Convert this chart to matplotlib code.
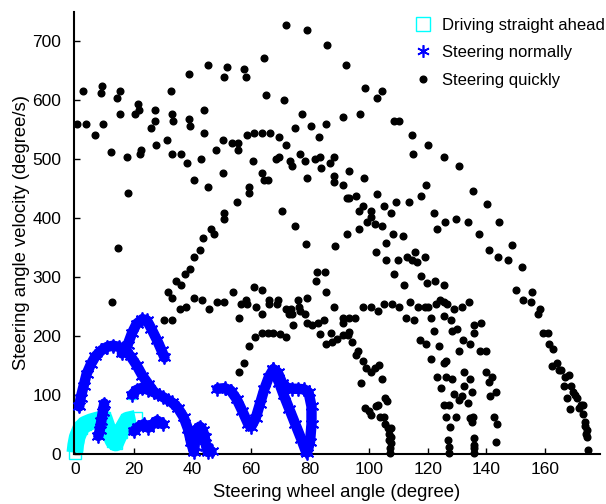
import numpy as np
import matplotlib
matplotlib.use("Agg")
import matplotlib.pyplot as plt
from matplotlib.lines import Line2D

plt.rcParams['font.family'] = ['Liberation Sans', 'DejaVu Sans']

# steering quickly (black dots)
quick_x = [2.9, 8.8, 9.2, 15.3, 14.5, 15.3, 0.9, 3.7, 6.8, 9.5, 12.2, 17.7, 18.0, 21.4, 21.8, 20.6, 22.6, 22.2,
           26.0, 27.2, 27.4, 27.7, 31.5, 32.6, 32.9, 33.4, 32.9, 36.1, 38.3, 40.6, 38.7, 38.8, 39.1, 43.0, 44.1,
           44.1, 43.7, 14.8, 12.6,
           71.8, 79.0, 85.9, 64.4, 45.2, 51.7, 50.9, 57.5, 58.3, 64.9, 71.0, 77.1, 74.8, 80.2, 85.6, 82.9, 47.9,
           50.3, 53.3, 55.6, 55.6, 58.6, 61.0, 63.6, 66.3, 69.4, 71.8, 60.7, 68.3, 69.5, 73.2, 74.0, 76.7, 78.4,
           81.7, 83.3, 86.8, 88.2, 83.6, 79.0, 88.3, 88.3, 50.3, 45.3, 63.6, 64.5, 65.6, 59.4, 59.4, 55.0, 50.9,
           50.6, 46.4, 47.5, 70.5, 74.8,
           92.4, 98.7, 102.9, 104.5, 91.3, 97.1, 108.7, 110.1, 114.8, 120.1, 115.1, 125.5, 130.5, 93.3, 98.2,
           91.3, 119.5, 92.5, 93.4, 95.6, 102.9, 97.9, 96.7, 100.6, 105.2, 109.4, 113.6, 117.8, 107.4, 100.6,
           99.4, 102.1, 104.5, 96.7, 92.5, 108.2, 111.7, 122.1, 123.2, 125.9, 129.7,
           135.5, 140.1, 133.6, 144.4, 137.5,
           42.6, 40.6, 39.2, 37.6, 34.4, 36.0, 31.7, 32.9, 40.6, 43.2, 35.7, 37.9, 30.2, 32.9,
           78.7, 88.5, 82.4, 85.1, 82.1, 85.6, 88.2, 60.9, 63.6, 53.7, 45.7, 48.2, 50.9, 56.4, 58.3, 58.7, 56.0,
           61.5, 63.6, 66.2, 66.0, 69.0, 68.7, 71.8, 72.8, 73.6, 74.0, 76.0, 76.4, 76.7, 78.3, 79.0, 74.1, 79.0,
           80.6, 82.8, 84.8, 83.5, 87.0, 85.5, 87.5, 61.3, 63.7, 65.6, 67.5, 69.8, 71.8, 59.4, 57.4, 56.0,
           102.5, 105.9, 105.9, 109.8, 112.9, 114.8, 115.6, 116.5, 119.1, 108.7, 111.8, 117.8, 119.8, 122.5,
           125.6, 97.9, 100.7, 103.0, 105.2, 107.9, 110.2, 114.1, 116.8, 119.1, 120.1, 122.9, 124.1, 125.6,
           126.5, 129.1, 131.7, 112.8, 115.2, 121.2, 125.6, 127.8, 130.1, 128.3, 122.1, 132.0, 117.4, 119.4,
           124.0, 130.5, 121.2, 125.4, 126.4, 123.2, 126.4, 128.3, 124.5, 132.2, 129.0, 130.6, 131.7, 125.6,
           127.2, 126.3, 129.7, 127.5, 127.0, 127.2, 127.3,
           89.3, 91.1, 93.1, 95.4, 91.2, 91.1, 92.8, 93.3, 94.3, 96.3, 95.6, 97.9, 99.0, 100.6, 102.1, 103.6,
           104.5, 97.5, 98.7, 100.0, 100.8, 102.4, 103.1, 105.4, 106.2, 103.9, 105.0, 105.6, 106.4, 107.5,
           106.9, 107.6, 106.9, 107.5, 107.3, 107.3,
           140.8, 144.0, 147.5, 148.6, 152.0, 150.1, 152.4, 155.4, 155.0, 158.1, 157.4, 159.3, 160.8, 161.2,
           162.8, 163.9, 162.4, 164.6, 165.5, 166.7, 168.1, 166.3, 168.9, 167.4, 169.3, 170.1, 170.7, 168.5,
           171.4, 172.1, 173.0, 172.8, 173.4, 173.6, 174.2, 173.9, 174.3, 174.5,
           134.0, 134.4, 135.9, 135.9, 138.2, 137.8, 139.7, 134.5, 132.4, 135.2, 133.6, 139.8, 140.9, 142.0,
           143.2, 141.3, 134.4, 135.4, 135.1, 142.4, 143.5, 143.3, 135.9, 135.6, 135.9, 135.8]
quick_y = [614, 611, 623, 614, 603, 575, 559, 559, 540, 559, 511, 503, 441, 592, 583, 575, 515, 507,
           551, 583, 564, 523, 531, 615, 575, 563, 507, 507, 492, 464, 643, 567, 556, 500, 583,
           544, 365, 349, 257,
           726, 718, 693, 671, 659, 655, 638, 651, 638, 607, 599, 575, 551, 556, 559, 536, 515,
           531, 527, 527, 515, 540, 544, 544, 544, 536, 523, 496, 500, 503, 496, 488, 507, 496,
           500, 503, 492, 503, 484, 467, 471, 460, 475, 452, 475, 464, 464, 452, 441, 427, 408,
           397, 381, 372, 412, 385,
           659, 619, 603, 615, 571, 575, 563, 563, 540, 523, 507, 503, 488, 479, 467,
           456, 456, 433, 433, 437, 440, 419, 412, 412, 419, 427, 427, 437, 408, 401,
           393, 389, 385, 381, 372, 372, 368, 408, 381, 393, 397,
           445, 423, 393, 393, 372,
           345, 333, 313, 305, 293, 285, 274, 264, 264, 260, 245, 249, 226, 226,
           356, 352, 308, 308, 293, 274, 249, 282, 278, 274, 245, 257, 257, 253, 260, 253, 230,
           249, 237, 260, 253, 260, 253, 245, 237, 245, 237, 260, 249, 241, 237, 264, 218, 222,
           218, 222, 226, 202, 205, 186, 190, 198, 205, 205, 205, 202, 198, 182, 154, 138,
           341, 357, 329, 329, 333, 329, 341, 325, 333, 305, 285, 301, 289, 293,
           285, 249, 249, 241, 253, 253, 249, 257, 249, 249, 249, 253, 260, 257,
           253, 245, 249, 230, 226, 230, 234, 226, 212, 208, 208, 193, 193, 186,
           182, 174, 161, 153, 157, 130, 130, 126, 111, 138, 101, 91, 97, 83,
           83, 63, 63, 46, 23, 11, 2,
           194, 230, 230, 230, 222, 201, 201, 206, 190, 174, 167, 157, 146, 138, 146, 150,
           127, 119, 77, 72, 66, 81, 83, 94, 90, 63, 63, 50, 44, 43,
           33, 28, 24, 18, 9, 2,
           345, 333, 329, 353, 316, 278, 260, 274, 257, 245, 237, 205, 205, 186,
           178, 154, 149, 142, 142, 130, 134, 115, 115, 94, 105, 100, 95, 75,
           77, 83, 83, 67, 53, 47, 41, 33, 28, 7,
           257, 186, 218, 205, 222, 174, 174, 127, 115, 105, 86, 138, 122, 130,
           105, 97, 60, 63, 53, 63, 50, 19, 27, 15, 9, 1]

# steering normally (blue asterisk traces)
normal_arch_x = [1.5, 2.0, 3.0, 4.0, 5.5, 7.0, 9.0, 11.0, 13.0, 15.0, 17.0, 19.0, 21.0, 23.0, 25.0, 27.0]
normal_arch_y = [80, 95, 115, 135, 152, 165, 175, 181, 183, 181, 176, 165, 150, 132, 118, 104]
normal_peak_x = [16.0, 18.0, 19.5, 21.0, 23.0, 24.5, 26.0, 28.0, 29.5, 30.5]
normal_peak_y = [170, 185, 205, 220, 228, 226, 212, 192, 175, 163]
normal_mid_x = [19.5, 21.0, 23.0, 25.0, 27.0, 30.0, 33.0, 35.0, 37.0, 38.5, 39.5, 40.5,
                41.0, 41.5, 42.5, 43.5, 44.2, 44.7, 45.2, 46.5]
normal_mid_y = [100, 108, 112, 108, 104, 96, 87, 78, 62, 42, 20, 3,
                25, 40, 46, 40, 28, 12, 3, 4]
normal_stub_x = [10.0, 9.5, 9.0, 8.5, 8.0]
normal_stub_y = [85, 70, 55, 40, 30]
normal_wave_x = [20.0, 21.5, 23.5, 25.0, 26.5, 28.0, 30.0]
normal_wave_y = [38, 45, 50, 44, 50, 56, 50]
normal_right_x = [48.5, 51, 53, 55, 57, 59, 60, 61.5, 63, 64.5, 66, 67.5, 69, 70.5, 72, 74, 76, 78,
                  79.5, 80.5, 80.5, 80, 79]
normal_right_y = [110, 111, 107, 93, 72, 50, 46, 60, 85, 110, 130, 143, 138, 120, 112, 110, 110, 109,
                  104, 80, 50, 20, 2]
normal_diag_x = [67.5, 69.5, 71, 73, 75, 77, 78.5]
normal_diag_y = [143, 120, 100, 75, 50, 25, 5]

# driving straight ahead (cyan squares)
straight_x = [0.0, 0.3, 0.8, 2.0, 3.5, 5.4, 7.5, 10.0, 11.6, 13.0, 13.9, 15.6, 17.9, 20.7]
straight_y = [2, 15, 28, 43, 50, 54, 57, 60, 37, 22, 18, 37, 57, 60]
straight_lone_x = [19.6]
straight_lone_y = [99]

fig = plt.figure(figsize=(6.06, 5.04), dpi=100)
ax = fig.add_axes([0.122, 0.0998, 0.868, 0.876])

ast = (6, 2, 0)
normal_traces = [(normal_arch_x, normal_arch_y), (normal_peak_x, normal_peak_y),
                 (normal_mid_x, normal_mid_y), (normal_stub_x, normal_stub_y),
                 (normal_wave_x, normal_wave_y), (normal_right_x, normal_right_y),
                 (normal_diag_x, normal_diag_y)]

ax.plot(straight_x, straight_y, '-', color='cyan', lw=12, solid_capstyle='butt', clip_on=False, zorder=2)
ax.plot(straight_x, straight_y, 's', color='cyan', ms=8, mfc='none', clip_on=False, zorder=2)
ax.plot(straight_lone_x, straight_lone_y, 's', color='cyan', ms=6, mfc='none', clip_on=False, zorder=2)

for tx, ty in normal_traces:
    ax.plot(tx, ty, '-', color='blue', lw=7.5, solid_capstyle='round', clip_on=False, zorder=3)
    ax.plot(tx, ty, ls='none', marker=ast, color='blue', ms=10, mew=1.3, clip_on=False, zorder=3)

ax.plot(quick_x, quick_y, 'o', color='black', ms=4.8, clip_on=False, zorder=4)

ax.set_xlim(-0.3, 178.6)
ax.set_ylim(0, 748)
ax.set_xticks(np.arange(0, 161, 20))
ax.set_yticks(np.arange(0, 701, 100))
ax.spines['top'].set_visible(False)
ax.spines['right'].set_visible(False)
ax.spines['left'].set_linewidth(1.5)
ax.spines['bottom'].set_linewidth(1.5)
ax.tick_params(direction='in', length=4, width=1, labelsize=12.5)
ax.tick_params(axis='y', pad=9)
ax.tick_params(axis='x', pad=6)
ax.set_xlabel('Steering wheel angle (degree)', fontsize=13.3, labelpad=5)
ax.set_ylabel('Steering angle velocity (degree/s)', fontsize=13.3, labelpad=2)

handles = [Line2D([], [], ls='none', marker='s', color='cyan', mfc='none', ms=10),
           Line2D([], [], ls='none', marker=ast, color='blue', ms=9, mew=1.2),
           Line2D([], [], ls='none', marker='o', color='black', ms=4.8)]
labels = ['Driving straight ahead', 'Steering normally', 'Steering quickly']
ax.legend(handles, labels, loc='upper left', bbox_to_anchor=(415 / 606, 1 - 18 / 504),
          bbox_transform=fig.transFigure, frameon=False, fontsize=12,
          handlelength=1.0, handletextpad=0.6, labelspacing=0.74, borderaxespad=0,
          borderpad=0)

fig.savefig('out.png', dpi=100)
